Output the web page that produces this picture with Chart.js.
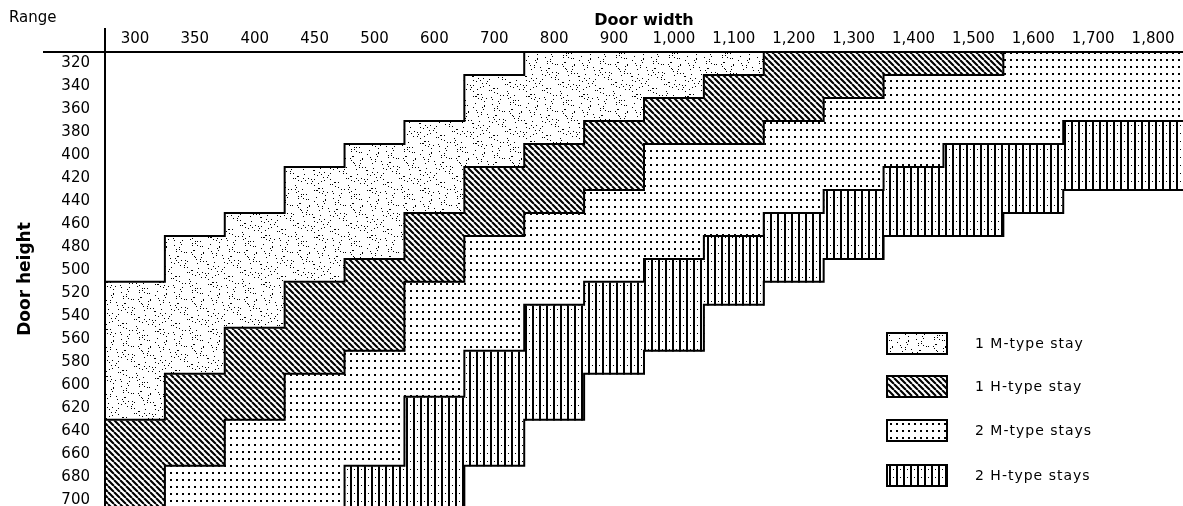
<!DOCTYPE html>
<html>
<head>
<meta charset="utf-8">
<script src="https://cdn.jsdelivr.net/npm/chart.js@4.4.1/dist/chart.umd.min.js"></script>
<style>
html,body{margin:0;padding:0;background:#fff;}
#wrap{width:1183px;height:506px;position:relative;}
</style>
</head>
<body>
<div id="wrap"><canvas id="c"></canvas></div>
<script>
// ---- data ----
const doorWidths = ['300','350','400','450','500','600','700','800','900','1,000','1,100','1,200','1,300','1,400','1,500','1,600','1,700','1,800'];
const doorHeights = [320,340,360,380,400,420,440,460,480,500,520,540,560,580,600,620,640,660,680,700];
// door-height range [from, to] (mm) for each door width; null = not used
const oneMTypeStay = [[520,620],[480,580],[460,540],[420,500],[400,480],[380,440],[340,400],[320,380],[320,360],[320,340],[320,320],null,null,null,null,null,null,null];
const oneHTypeStay = [[640,700],[600,660],[560,620],[520,580],[500,560],[460,500],[420,460],[400,440],[380,420],[360,380],[340,380],[320,360],[320,340],[320,320],[320,320],null,null,null];
const twoMTypeStays = [null,[680,700],[640,700],[600,700],[580,660],[520,600],[480,560],[460,520],[440,500],[400,480],[400,460],[380,440],[360,420],[340,400],[340,380],[320,380],[320,360],[320,360]];
const twoHTypeStays = [null,null,null,null,[680,700],[620,700],[580,660],[540,620],[520,580],[500,560],[480,520],[460,500],[440,480],[420,460],[400,460],[400,440],[380,420],[380,420]];
const seriesLabels = ['1 M-type stay','1 H-type stay','2 M-type stays','2 H-type stays'];
const seriesData = [oneMTypeStay, oneHTypeStay, twoMTypeStays, twoHTypeStays];
const rowStep = 20;

// ---- fill patterns ----
function makePattern(w, h, draw) {
  const cv = document.createElement('canvas');
  cv.width = w; cv.height = h;
  const g = cv.getContext('2d');
  g.fillStyle = '#fff'; g.fillRect(0, 0, w, h);
  g.fillStyle = '#000'; g.strokeStyle = '#000';
  draw(g, w, h);
  return g.createPattern(cv, 'repeat');
}
const stipple = makePattern(53, 47, (g, w, h) => {
  for (let i = 0; i < 125; i++) {
    const x = (i * 29 + (i * i) % 17) % w;
    const y = (i * 41 + (i * 7) % 13) % h;
    g.fillRect(x, y, 1, 1);
  }
});
const hatch = makePattern(6, 6, (g, w, h) => {
  g.lineWidth = 2.1;
  g.beginPath();
  for (let k = -1; k <= 1; k++) { g.moveTo(k * w, 0); g.lineTo(k * w + w, h); }
  g.stroke();
});
const dots = makePattern(6, 7, (g) => { g.fillRect(2, 3, 2, 2); });
const vlines = makePattern(7, 8, (g) => { g.fillRect(0, 0, 2, 8); g.fillRect(4, 5, 1, 1); });
const fills = [stipple, hatch, dots, vlines];

// ---- cell categories derived from the data ----
function categoryAt(c, h) {
  for (let k = 0; k < seriesData.length; k++) {
    const r = seriesData[k][c];
    if (r && h >= r[0] && h <= r[1]) return k + 1;
  }
  return 0;
}

const bordersPlugin = {
  id: 'regionBorders',
  afterDatasetsDraw(chart) {
    const {ctx, chartArea, scales: {x, y}} = chart;
    const n = doorWidths.length, m = doorHeights.length;
    const colW = (x.right - x.left) / n;
    ctx.save();
    ctx.beginPath();
    ctx.rect(chartArea.left, chartArea.top, chartArea.right - chartArea.left, chartArea.bottom - chartArea.top);
    ctx.clip();
    ctx.strokeStyle = '#000';
    ctx.lineWidth = 2;
    ctx.lineCap = 'square';
    ctx.beginPath();
    for (let c = 0; c < n; c++) {
      const xl = x.getPixelForValue(c) - colW / 2, xr = x.getPixelForValue(c) + colW / 2;
      for (let r = 0; r < m; r++) {
        const h = doorHeights[r];
        const yt = y.getPixelForValue(h - rowStep / 2), yb = y.getPixelForValue(h + rowStep / 2);
        const cat = categoryAt(c, h);
        if (c + 1 < n && categoryAt(c + 1, h) !== cat) { ctx.moveTo(xr, yt); ctx.lineTo(xr, yb); }
        if (r + 1 < m && categoryAt(c, doorHeights[r + 1]) !== cat) { ctx.moveTo(xl, yb); ctx.lineTo(xr, yb); }
      }
    }
    ctx.stroke();
    ctx.restore();
  }
};

const framePlugin = {
  id: 'frame',
  afterDraw(chart) {
    const {ctx, chartArea} = chart;
    ctx.save();
    ctx.strokeStyle = '#000';
    ctx.lineWidth = 2;
    ctx.beginPath();
    ctx.moveTo(chartArea.left, 28); ctx.lineTo(chartArea.left, chartArea.bottom);
    ctx.moveTo(43, chartArea.top); ctx.lineTo(chartArea.right, chartArea.top);
    ctx.stroke();
    ctx.fillStyle = '#000';
    ctx.font = '15px "DejaVu Sans"';
    ctx.textBaseline = 'middle';
    ctx.textAlign = 'left';
    ctx.fillText('Range', 9, 18);
    // legend
    const bx = 887, bw = 60, bh = 21, tops = [333, 376, 420, 465];
    ctx.font = '14px "DejaVu Sans"';
    try { ctx.letterSpacing = '1px'; } catch (e) {}
    chart.data.datasets.forEach((ds, i) => {
      ctx.fillStyle = ds.backgroundColor;
      ctx.fillRect(bx, tops[i], bw, bh);
      ctx.lineWidth = 2;
      ctx.strokeRect(bx, tops[i], bw, bh);
      ctx.fillStyle = '#000';
      ctx.fillText(ds.label, 975, tops[i] + bh / 2 + 1);
    });
    ctx.restore();
  }
};

Chart.defaults.font.family = '"DejaVu Sans", sans-serif';
Chart.defaults.color = '#000';

new Chart(document.getElementById('c'), {
  type: 'bar',
  data: {
    labels: doorWidths,
    datasets: seriesData.map((arr, k) => ({
      label: seriesLabels[k],
      data: arr.map(r => r ? [r[0] - rowStep / 2, r[1] + rowStep / 2] : null),
      backgroundColor: fills[k],
      borderWidth: 0,
      inflateAmount: 0.6,
      grouped: false,
      categoryPercentage: 1,
      barPercentage: 1
    }))
  },
  options: {
    responsive: true,
    maintainAspectRatio: false,
    animation: false,
    layout: {padding: 0},
    plugins: {legend: {display: false}, tooltip: {enabled: false}},
    scales: {
      x: {
        type: 'category',
        position: 'top',
        grid: {display: false},
        border: {display: false},
        ticks: {font: {size: 15}, padding: -4, autoSkip: false, maxRotation: 0},
        title: {display: true, text: 'Door width', font: {size: 16, weight: 'bold'}, padding: {top: 11, bottom: 0}},
        afterFit(s) { s.height = 52; s.paddingLeft = 0; s.paddingRight = 0; }
      },
      y: {
        type: 'linear',
        reverse: true,
        min: 310,
        max: 705,
        grid: {display: false},
        border: {display: false},
        ticks: {font: {size: 15}, padding: 7, autoSkip: false},
        afterBuildTicks(s) { s.ticks = doorHeights.map(v => ({value: v})); },
        title: {display: true, text: 'Door height', font: {size: 17, weight: 'bold'}, padding: {top: 15, bottom: 0}},
        afterFit(s) { s.width = 105; s.paddingTop = 0; s.paddingBottom = 0; }
      }
    }
  },
  plugins: [bordersPlugin, framePlugin]
});
</script>
</body>
</html>
